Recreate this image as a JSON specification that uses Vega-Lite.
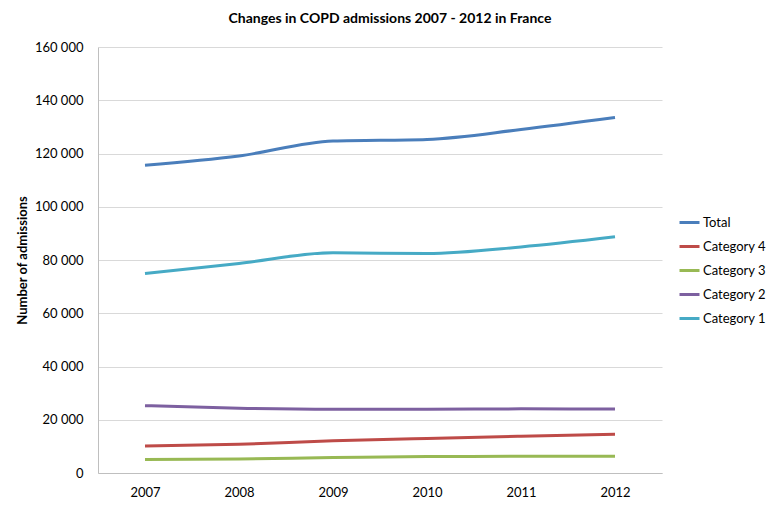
{
  "$schema": "https://vega.github.io/schema/vega-lite/v6.json",
  "autosize": "none",
  "padding": {"left": 98, "top": 47, "right": 116, "bottom": 36},
  "width": 564,
  "height": 426,
  "background": "white",
  "title": {
    "text": "Changes in COPD admissions 2007 - 2012 in France",
    "font": "Lato",
    "fontSize": 14,
    "fontWeight": "bold",
    "color": "#000000",
    "anchor": "middle",
    "dx": 10,
    "offset": 15
  },
  "data": {
    "values": [
      {"year": "2007", "series": "Total", "value": 115600},
      {"year": "2008", "series": "Total", "value": 119100},
      {"year": "2009", "series": "Total", "value": 124700},
      {"year": "2010", "series": "Total", "value": 125300},
      {"year": "2011", "series": "Total", "value": 129000},
      {"year": "2012", "series": "Total", "value": 133500},
      {"year": "2007", "series": "Category 4", "value": 10100},
      {"year": "2008", "series": "Category 4", "value": 10800},
      {"year": "2009", "series": "Category 4", "value": 12100},
      {"year": "2010", "series": "Category 4", "value": 13000},
      {"year": "2011", "series": "Category 4", "value": 13800},
      {"year": "2012", "series": "Category 4", "value": 14600},
      {"year": "2007", "series": "Category 3", "value": 5100},
      {"year": "2008", "series": "Category 3", "value": 5300},
      {"year": "2009", "series": "Category 3", "value": 5800},
      {"year": "2010", "series": "Category 3", "value": 6200},
      {"year": "2011", "series": "Category 3", "value": 6250},
      {"year": "2012", "series": "Category 3", "value": 6250},
      {"year": "2007", "series": "Category 2", "value": 25300},
      {"year": "2008", "series": "Category 2", "value": 24300},
      {"year": "2009", "series": "Category 2", "value": 23900},
      {"year": "2010", "series": "Category 2", "value": 23900},
      {"year": "2011", "series": "Category 2", "value": 24100},
      {"year": "2012", "series": "Category 2", "value": 24050},
      {"year": "2007", "series": "Category 1", "value": 74950},
      {"year": "2008", "series": "Category 1", "value": 78700},
      {"year": "2009", "series": "Category 1", "value": 82700},
      {"year": "2010", "series": "Category 1", "value": 82450},
      {"year": "2011", "series": "Category 1", "value": 84900},
      {"year": "2012", "series": "Category 1", "value": 88700}
    ]
  },
  "mark": {"type": "line", "strokeWidth": 3, "interpolate": "monotone"},
  "encoding": {
    "x": {
      "field": "year",
      "type": "ordinal",
      "scale": {"type": "point", "padding": 0.5},
      "axis": {
        "title": null,
        "labelAngle": 0,
        "ticks": false,
        "labelPadding": 13,
        "domainColor": "#BFBFBF",
        "grid": false
      }
    },
    "y": {
      "field": "value",
      "type": "quantitative",
      "scale": {"domain": [0, 160000], "nice": false},
      "axis": {
        "title": "Number of admissions",
        "values": [0, 20000, 40000, 60000, 80000, 100000, 120000, 140000, 160000],
        "labelExpr": "replace(format(datum.value, ',d'), ',', ' ')",
        "ticks": false,
        "labelPadding": 15,
        "titlePadding": 5,
        "grid": true,
        "gridColor": "#D9D9D9",
        "domainColor": "#BFBFBF"
      }
    },
    "color": {
      "field": "series",
      "type": "nominal",
      "scale": {
        "domain": ["Total", "Category 4", "Category 3", "Category 2", "Category 1"],
        "range": ["#4A7EBB", "#BE4B48", "#98B954", "#7D60A0", "#46AAC5"]
      },
      "legend": {
        "title": null,
        "orient": "none",
        "legendX": 580,
        "legendY": 164,
        "symbolType": "stroke",
        "symbolSize": 400,
        "symbolStrokeWidth": 3,
        "labelOffset": 2,
        "rowPadding": 5,
        "labelFontSize": 13
      }
    }
  },
  "config": {
    "view": {"stroke": null},
    "font": "Lato",
    "axis": {
      "labelFont": "Lato",
      "labelFontSize": 13,
      "labelColor": "#000000",
      "titleFont": "Lato",
      "titleFontSize": 13,
      "titleFontWeight": "bold",
      "titleColor": "#000000"
    },
    "legend": {
      "labelFont": "Lato",
      "labelColor": "#000000"
    }
  }
}
